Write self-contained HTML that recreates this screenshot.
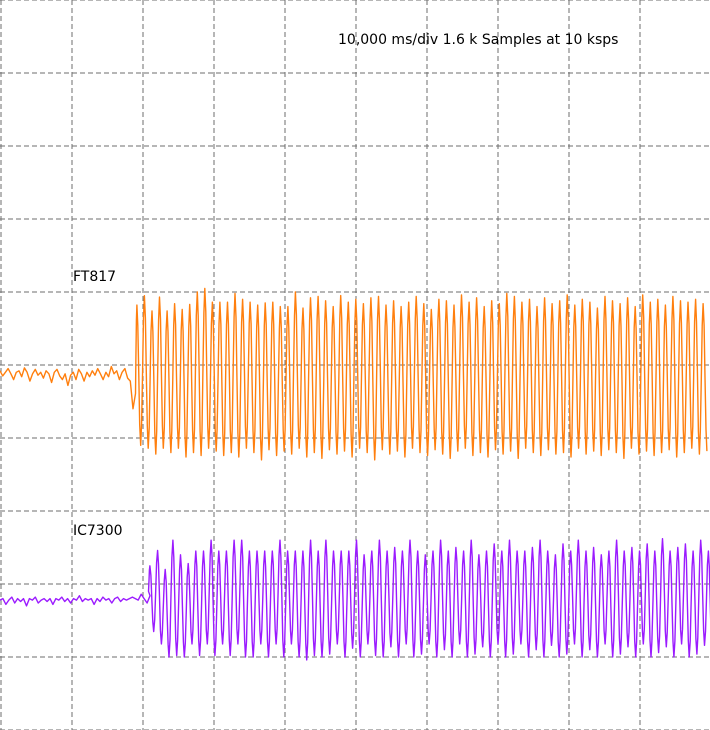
<!DOCTYPE html>
<html><head><meta charset="utf-8"><style>
html,body{margin:0;padding:0;background:#fff;}
svg{display:block;}
text{font-family:"DejaVu Sans","Liberation Sans",sans-serif;}
</style></head><body>
<svg id="chart" width="710" height="730" viewBox="0 0 710 730" xmlns="http://www.w3.org/2000/svg">
<g id="grid"></g>
<text x="338" y="44" font-size="14" fill="#000">10,000 ms/div 1.6 k Samples at 10 ksps</text>
<text x="73" y="281" font-size="14" fill="#000">FT817</text>
<text x="73" y="535" font-size="14" fill="#000">IC7300</text>
<path id="ft817" fill="none" stroke="#ff7f0e" stroke-width="1.4" stroke-linejoin="round"/>
<path id="ic7300" fill="none" stroke="#9b1bff" stroke-width="1.4" stroke-linejoin="round"/>
</svg>
<script>
// values in divisions relative to each trace's center line
const ftNoise=[-0.08,-0.15,-0.1,-0.05,-0.12,-0.2,-0.1,-0.08,-0.16,-0.04,-0.1,-0.22,-0.12,-0.06,-0.14,-0.1,-0.18,-0.08,-0.12,-0.24,-0.1,-0.06,-0.15,-0.2,-0.12,-0.28,-0.14,-0.1,-0.2,-0.06,-0.12,-0.22,-0.1,-0.16,-0.08,-0.14,-0.05,-0.12,-0.2,-0.1,-0.16,-0.02,-0.12,-0.08,-0.2,-0.1,-0.05,-0.18,-0.22,-0.6];
const ftPeaks=[0.82,0.95,0.74,0.93,0.74,0.84,0.76,0.83,1.0,1.05,0.86,0.86,0.86,0.98,0.9,0.86,0.82,0.85,0.86,0.8,0.8,1.0,0.78,0.92,0.94,0.88,0.8,0.95,0.86,0.9,0.84,0.92,0.94,0.82,0.88,0.8,0.86,0.94,0.84,0.76,0.9,0.88,0.82,0.96,0.86,0.92,0.8,0.88,0.84,0.98,0.94,0.86,0.9,0.8,0.92,0.84,0.88,0.96,0.82,0.9,0.86,0.78,0.94,0.88,0.84,0.92,0.8,0.96,0.86,0.9,0.82,0.94,0.88,0.86,0.9,0.84];
const ftTroughs=[-1.1,-1.14,-1.22,-1.14,-1.2,-1.14,-1.26,-1.2,-1.24,-1.14,-1.18,-1.24,-1.2,-1.26,-1.14,-1.2,-1.3,-1.16,-1.24,-1.18,-1.22,-1.14,-1.26,-1.2,-1.28,-1.16,-1.22,-1.18,-1.26,-1.14,-1.2,-1.3,-1.16,-1.22,-1.18,-1.26,-1.14,-1.2,-1.24,-1.16,-1.22,-1.28,-1.18,-1.14,-1.24,-1.2,-1.26,-1.16,-1.22,-1.18,-1.28,-1.14,-1.2,-1.24,-1.16,-1.22,-1.2,-1.26,-1.14,-1.22,-1.18,-1.24,-1.16,-1.2,-1.28,-1.14,-1.22,-1.18,-1.24,-1.2,-1.16,-1.26,-1.2,-1.14,-1.22,-1.18];
const icNoise=[-0.22,-0.2,-0.28,-0.22,-0.18,-0.26,-0.2,-0.24,-0.2,-0.3,-0.2,-0.22,-0.18,-0.26,-0.22,-0.2,-0.24,-0.2,-0.28,-0.2,-0.22,-0.18,-0.24,-0.2,-0.26,-0.2,-0.22,-0.16,-0.24,-0.2,-0.22,-0.2,-0.28,-0.2,-0.24,-0.18,-0.22,-0.2,-0.26,-0.2,-0.18,-0.24,-0.2,-0.22,-0.2,-0.18,-0.2,-0.22,-0.14,-0.2,-0.26,-0.16];
const icPeaks=[0.25,0.46,0.2,0.6,0.4,0.28,0.45,0.45,0.6,0.45,0.45,0.6,0.6,0.45,0.45,0.45,0.45,0.6,0.45,0.45,0.45,0.6,0.45,0.6,0.45,0.45,0.45,0.6,0.4,0.45,0.6,0.45,0.5,0.45,0.6,0.45,0.4,0.45,0.6,0.45,0.5,0.45,0.6,0.4,0.45,0.55,0.45,0.6,0.45,0.45,0.5,0.6,0.45,0.4,0.55,0.45,0.6,0.45,0.5,0.4,0.45,0.6,0.45,0.5,0.45,0.55,0.45,0.62,0.45,0.5,0.55,0.45,0.6,0.45];
const icTroughs=[-0.65,-0.82,-1.0,-0.98,-1.0,-0.82,-0.98,-0.82,-0.98,-0.82,-0.98,-0.82,-1.0,-1.0,-0.82,-1.0,-0.82,-1.0,-0.82,-1.0,-1.04,-0.98,-1.0,-0.96,-0.82,-1.0,-0.88,-1.0,-0.82,-0.98,-1.0,-0.86,-1.0,-0.82,-1.0,-0.96,-0.82,-1.0,-0.9,-1.0,-0.82,-1.0,-0.96,-0.86,-1.0,-0.82,-1.0,-0.96,-0.82,-1.0,-0.9,-1.0,-0.84,-1.0,-0.96,-0.82,-1.0,-0.9,-1.0,-0.82,-1.0,-0.96,-0.86,-1.0,-0.82,-1.0,-0.94,-0.86,-1.0,-0.82,-1.0,-0.96,-0.84,-1.0];
const DIV=73;
function yFt(v){return 365-v*DIV;}
function yIc(v){return 584-v*DIV;}
function buildPath(noise,peaks,troughs,noiseEnd,startX,period,yf){
  const pts=[];
  const step=noiseEnd/(noise.length-1);
  noise.forEach((v,i)=>pts.push([i*step,yf(v)]));
  // extremes sequence, then cosine-shaped segments between consecutive extremes
  const ext=[[startX,noise[noise.length-1]]];
  for(let i=0;i<peaks.length;i++){
    const x0=startX+i*period;
    ext.push([x0+period*0.25,peaks[i]]);
    ext.push([x0+period*0.75,troughs[i]]);
  }
  for(let k=1;k<ext.length;k++){
    const a=ext[k-1],b=ext[k];
    for(let s=1;s<=4;s++){
      const t=s/4, w=(1-Math.cos(Math.PI*t))/2;
      pts.push([a[0]+(b[0]-a[0])*t, yf(a[1]+(b[1]-a[1])*w)]);
    }
  }
  return 'M'+pts.map(p=>p[0].toFixed(1)+','+p[1].toFixed(1)).join(' L');
}
const svgNS='http://www.w3.org/2000/svg';
const g=document.getElementById('grid');
for(let i=0;i<=10;i++){
  const x=1+i*71;
  const l=document.createElementNS(svgNS,'line');
  l.setAttribute('x1',x);l.setAttribute('x2',x);l.setAttribute('y1',0);l.setAttribute('y2',730);
  l.setAttribute('stroke','#6e6e6e');l.setAttribute('stroke-dasharray','5,3');
  
  
  g.appendChild(l);
  const y=i*73;
  const h=document.createElementNS(svgNS,'line');
  h.setAttribute('x1',0);h.setAttribute('x2',710);h.setAttribute('y1',y);h.setAttribute('y2',y);
  h.setAttribute('stroke','#6e6e6e');h.setAttribute('stroke-dasharray','5,3');
  
  
  g.appendChild(h);
}
document.getElementById('ft817').setAttribute('d',buildPath(ftNoise,ftPeaks,ftTroughs,133,135,7.55,yFt));
document.getElementById('ic7300').setAttribute('d',buildPath(icNoise,icPeaks,icTroughs,150,148,7.65,yIc));
</script>
</body></html>
